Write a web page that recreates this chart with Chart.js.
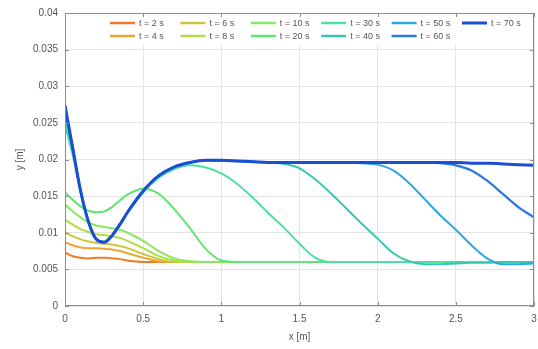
<!DOCTYPE html>
<html><head><meta charset="utf-8">
<script src="https://cdn.jsdelivr.net/npm/chart.js@4.4.1/dist/chart.umd.min.js"></script>
<style>html,body{margin:0;padding:0;background:#fff}#wrap{width:538px;height:349px;position:relative}</style>
</head><body><div id="wrap"><canvas id="c" width="538" height="349"></canvas></div>
<script>
// ---- data ----
const xs = [0,0.05,0.1,0.15,0.2,0.25,0.3,0.35,0.4,0.5,0.6,0.7,0.8,0.9,1.0,1.1,1.2,1.3,1.4,1.5,1.6,1.7,1.8,1.9,2.0,2.1,2.2,2.3,2.4,2.5,2.6,2.7,2.8,2.9,3.0];
const seriesLabels = ['t = 2 s','t = 4 s','t = 6 s','t = 8 s','t = 10 s','t = 20 s','t = 30 s','t = 40 s','t = 50 s','t = 60 s','t = 70 s'];
const y_t2  = [0.0073,0.0068,0.0066,0.0065,0.0066,0.0066,0.0065,0.0064,0.0062,0.0060,0.0060,0.0060,0.0060,0.0060,0.0060,0.0060,0.0060,0.0060,0.0060,0.0060,0.0060,0.0060,0.0060,0.0060,0.0060,0.0060,0.0060,0.0060,0.0060,0.0060,0.0060,0.0060,0.0060,0.0060,0.0060];
const y_t4  = [0.0087,0.0083,0.0080,0.0079,0.0079,0.0078,0.0077,0.0075,0.0072,0.0066,0.0061,0.0060,0.0060,0.0060,0.0060,0.0060,0.0060,0.0060,0.0060,0.0060,0.0060,0.0060,0.0060,0.0060,0.0060,0.0060,0.0060,0.0060,0.0060,0.0060,0.0060,0.0060,0.0060,0.0060,0.0060];
const y_t6  = [0.0101,0.0095,0.0091,0.0088,0.0086,0.0085,0.0084,0.0082,0.0079,0.0071,0.0064,0.0060,0.0060,0.0060,0.0060,0.0060,0.0060,0.0060,0.0060,0.0060,0.0060,0.0060,0.0060,0.0060,0.0060,0.0060,0.0060,0.0060,0.0060,0.0060,0.0060,0.0060,0.0060,0.0060,0.0060];
const y_t8  = [0.0118,0.0111,0.0105,0.0101,0.0098,0.0097,0.0095,0.0093,0.0089,0.0079,0.0068,0.0062,0.0060,0.0060,0.0060,0.0060,0.0060,0.0060,0.0060,0.0060,0.0060,0.0060,0.0060,0.0060,0.0060,0.0060,0.0060,0.0060,0.0060,0.0060,0.0060,0.0060,0.0060,0.0060,0.0060];
const y_t10 = [0.0139,0.0129,0.0121,0.0114,0.0110,0.0108,0.0106,0.0104,0.0100,0.0089,0.0075,0.0065,0.0061,0.0060,0.0060,0.0060,0.0060,0.0060,0.0060,0.0060,0.0060,0.0060,0.0060,0.0060,0.0060,0.0060,0.0060,0.0060,0.0060,0.0060,0.0060,0.0060,0.0060,0.0060,0.0060];
const y_t20 = [0.0155,0.0145,0.0136,0.0130,0.0128,0.0129,0.0135,0.0144,0.0152,0.0160,0.0153,0.0132,0.0106,0.0078,0.0062,0.0060,0.0060,0.0060,0.0060,0.0060,0.0060,0.0060,0.0060,0.0060,0.0060,0.0060,0.0060,0.0060,0.0060,0.0060,0.0060,0.0060,0.0060,0.0060,0.0060];
const y_t30 = [0.0247,0.0205,0.0155,0.0115,0.0092,0.0088,0.0096,0.0110,0.0127,0.0155,0.0175,0.0187,0.0192,0.0189,0.0181,0.0167,0.0148,0.0127,0.0107,0.0085,0.0066,0.0060,0.0060,0.0060,0.0060,0.0060,0.0060,0.0060,0.0060,0.0060,0.0060,0.0060,0.0060,0.0060,0.0060];
const y_t40 = [0.0258,0.0212,0.0157,0.0115,0.0091,0.0087,0.0096,0.0111,0.0128,0.0157,0.0178,0.0190,0.0196,0.0199,0.0199,0.0198,0.0197,0.0196,0.0194,0.0188,0.0173,0.0154,0.0133,0.0112,0.0092,0.0072,0.0061,0.0057,0.0057,0.0058,0.0059,0.0059,0.0060,0.0060,0.0060];
const y_t50 = [0.0266,0.0214,0.0157,0.0115,0.0091,0.0087,0.0096,0.0111,0.0128,0.0157,0.0178,0.0190,0.0196,0.0199,0.0199,0.0198,0.0197,0.0196,0.0196,0.0196,0.0196,0.0196,0.0196,0.0195,0.0193,0.0185,0.0168,0.0146,0.0124,0.0104,0.0083,0.0065,0.0057,0.0057,0.0058];
const y_t60 = [0.0271,0.0215,0.0157,0.0115,0.0091,0.0087,0.0096,0.0111,0.0128,0.0157,0.0178,0.0190,0.0196,0.0199,0.0199,0.0198,0.0197,0.0196,0.0196,0.0196,0.0196,0.0196,0.0196,0.0196,0.0196,0.0196,0.0196,0.0196,0.0195,0.0192,0.0185,0.0171,0.0153,0.0135,0.0121];
const y_t70 = [0.0274,0.0215,0.0157,0.0115,0.0091,0.0087,0.0096,0.0111,0.0128,0.0157,0.0178,0.0190,0.0196,0.0199,0.0199,0.0198,0.0197,0.0196,0.0196,0.0196,0.0196,0.0196,0.0196,0.0196,0.0196,0.0196,0.0196,0.0196,0.0196,0.0196,0.0195,0.0195,0.0194,0.0193,0.0192];
const seriesValues = [y_t2,y_t4,y_t6,y_t8,y_t10,y_t20,y_t30,y_t40,y_t50,y_t60,y_t70];
const xTickLabels = ['0','0.5','1','1.5','2','2.5','3'];
const yTickLabels = ['0','0.005','0.01','0.015','0.02','0.025','0.03','0.035','0.04'];

// ---- styles ----
const colors = ['#f07a2a','#eaa532','#cdc43a','#b2dc46','#8ae65e','#62e472','#4ee0a0','#36c8b2','#2ea8de','#2a78e2','#1a4fd4'];
const widths = [2,2,2,2,2,2,2,2,2,2.2,3];
const FONT = '"Liberation Sans", Arial, sans-serif';

const datasets = seriesValues.map((arr,i)=>({
  label: seriesLabels[i],
  data: arr.map((v,j)=>({x: xs[j], y: v})),
  borderColor: colors[i],
  backgroundColor: colors[i],
  borderWidth: widths[i],
  pointRadius: 0,
  fill: false,
  cubicInterpolationMode: 'monotone',
  order: seriesValues.length - i
}));

const legendPlugin = {
  id: 'customLegend',
  afterDatasetsDraw(chart){
    const ctx = chart.ctx;
    const ca = chart.chartArea;
    ctx.save();
    ctx.fillStyle = '#fff';
    ctx.fillRect(100, ca.top+1, ca.right-101, 31);
    ctx.font = '9px ' + FONT;
    ctx.textBaseline = 'middle';
    ctx.fillStyle = '#555';
    const ds = chart.data.datasets;
    ds.forEach((d,i)=>{
      const col = Math.floor(i/2), row = i%2;
      const x0 = 110 + col*70.4;
      const y0 = 23 + row*13;
      ctx.strokeStyle = d.borderColor;
      ctx.lineWidth = i===ds.length-1 ? 3 : 2.5;
      ctx.beginPath(); ctx.moveTo(x0,y0); ctx.lineTo(x0+25,y0); ctx.stroke();
      ctx.fillText(d.label, x0+29, y0+0.5);
    });
    ctx.restore();
  },
  afterDraw(chart){
    const ctx = chart.ctx, ca = chart.chartArea;
    const xs_ = chart.scales.x, ys_ = chart.scales.y;
    ctx.save();
    ctx.strokeStyle = '#8c8c8c';
    ctx.lineWidth = 1;
    ctx.strokeRect(ca.left+0.5, ca.top+0.5, ca.right-ca.left-1, ca.bottom-ca.top-1);
    ctx.beginPath();
    xs_.ticks.forEach(t=>{
      const px = Math.round(xs_.getPixelForValue(t.value))+0.5;
      ctx.moveTo(px, ca.bottom); ctx.lineTo(px, ca.bottom-4);
      ctx.moveTo(px, ca.top); ctx.lineTo(px, ca.top+4);
    });
    ys_.ticks.forEach(t=>{
      const py = Math.round(ys_.getPixelForValue(t.value))+0.5;
      ctx.moveTo(ca.left, py); ctx.lineTo(ca.left+4, py);
      ctx.moveTo(ca.right, py); ctx.lineTo(ca.right-4, py);
    });
    ctx.stroke();
    ctx.restore();
  }
};

new Chart(document.getElementById('c'), {
  type: 'line',
  data: { datasets },
  options: {
    responsive: false,
    animation: false,
    devicePixelRatio: 1,
    layout: { padding: { left: 0, right: 0, top: 13, bottom: 0 } },
    plugins: { legend: { display: false }, tooltip: { enabled: false } },
    scales: {
      x: {
        type: 'linear', min: 0, max: 3,
        afterFit(s){ s.height = 43; s.paddingRight = 4; },
        ticks: { stepSize: 0.5, color: '#555', padding: 7, font: { family: FONT, size: 10 },
          maxRotation: 0, autoSkip: false,
          callback: (v,i)=> xTickLabels[i] },
        grid: { color: '#e4e4e4', drawTicks: false, lineWidth: 1 },
        border: { display: false },
        title: { display: true, text: 'x [m]', color: '#555', font: { family: FONT, size: 10 }, padding: { top: 0, bottom: 6 } }
      },
      y: {
        type: 'linear', min: 0, max: 0.04,
        afterFit(s){ s.width = 65; },
        ticks: { stepSize: 0.005, color: '#555', padding: 7, font: { family: FONT, size: 10 },
          autoSkip: false,
          callback: (v,i)=> yTickLabels[i] },
        grid: { color: '#e4e4e4', drawTicks: false, lineWidth: 1 },
        border: { display: false },
        title: { display: true, text: 'y [m]', color: '#555', font: { family: FONT, size: 10 }, padding: { top: 14, bottom: 0 } }
      }
    }
  },
  plugins: [legendPlugin]
});
</script>
</body></html>
